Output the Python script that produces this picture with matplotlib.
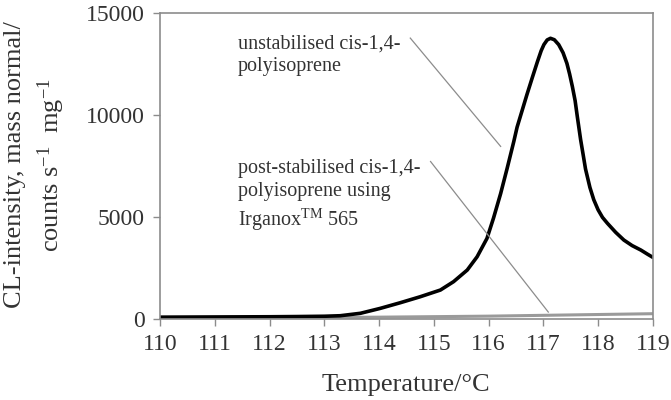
import matplotlib.pyplot as plt

plt.rcParams['font.family'] = ['Liberation Serif', 'DejaVu Serif']
plt.rcParams['mathtext.fontset'] = 'custom'
plt.rcParams['mathtext.rm'] = 'Liberation Serif'
plt.rcParams['mathtext.it'] = 'Liberation Serif:italic'

# unstabilised cis-1,4-polyisoprene
temp_a = [110.0, 110.5, 111.0, 111.5, 112.0, 112.5, 113.0, 113.29, 113.66, 114.02,
          114.39, 114.75, 115.12, 115.36, 115.61, 115.79, 115.97, 116.09, 116.22,
          116.34, 116.46, 116.52, 116.61, 116.70, 116.80, 116.89, 116.96, 117.01,
          117.07, 117.13, 117.20, 117.28, 117.36, 117.43, 117.48, 117.53, 117.58,
          117.62, 117.68, 117.73, 117.77, 117.85, 117.92, 118.0, 118.08, 118.17,
          118.32, 118.47, 118.62, 118.78, 118.9, 119.0]
cl_a = [90, 95, 100, 105, 110, 120, 135, 160, 280, 520,
        800, 1090, 1420, 1830, 2400, 3050, 3950, 4950, 6150,
        7400, 8700, 9400, 10200, 11000, 11850, 12600, 13150, 13450,
        13680, 13760, 13690, 13450, 13050, 12530, 12000, 11390, 10700,
        9920, 8800, 8000, 7350, 6450, 5850, 5350, 4980, 4690,
        4250, 3870, 3600, 3380, 3180, 3020]

# post-stabilised with Irganox 565
temp_b = [110.0, 112.0, 114.0, 116.0, 117.0, 118.0, 119.0]
cl_b = [40, 60, 90, 140, 180, 220, 260]

xticks = list(range(110, 120))
yticks = [0, 5000, 10000, 15000]

fig = plt.figure(figsize=(6.71, 4.0), dpi=100)
ax = fig.add_axes([0.2385, 0.2025, 0.7345, 0.765])

ax.plot(temp_b, cl_b, color='#9a9a9a', lw=2.2)
ax.plot(temp_a, cl_a, color='black', lw=2.6, solid_joinstyle='round',
        solid_capstyle='round')

ax.set_xlim(110, 119)
ax.set_ylim(0, 15000)
ax.set_xticks(xticks)
ax.set_yticks(yticks)
ax.tick_params(direction='out', length=5, width=1, color='#8c8c8c',
               labelsize=17, labelcolor='#333333', pad=6)
for s in ax.spines.values():
    s.set_color('#8c8c8c')
    s.set_linewidth(1.2)

# annotation lines
ax.plot([114.57, 116.22], [13770, 8460], color='#8c8c8c', lw=0.9)
ax.plot([114.94, 117.09], [7720, 340], color='#8c8c8c', lw=0.9)

ax.text(111.42, 13950, 'unstabilised cis-1,4-\npolyisoprene', fontsize=14.5,
        color='#333333', va='top', ha='left', linespacing=1.25)
ax.text(111.42, 7850, 'post-stabilised cis-1,4-\npolyisoprene using\nIrganox$^{\\mathrm{TM}}$ 565',
        fontsize=14.5, color='#333333', va='top', ha='left', linespacing=1.3)

fig.text(0.605, 0.037, 'Temperature/°C', fontsize=19, color='#333333',
         ha='center', va='center')
fig.text(0.022, 0.5875, 'CL-intensity, mass normal/', rotation=90, fontsize=19,
         color='#333333', ha='center', va='center')
fig.text(0.076, 0.5875, 'counts s$^{\\mathrm{-1}}$  mg$^{\\mathrm{-1}}$', rotation=90,
         fontsize=19, color='#333333', ha='center', va='center')

fig.savefig('out.png', dpi=100)
